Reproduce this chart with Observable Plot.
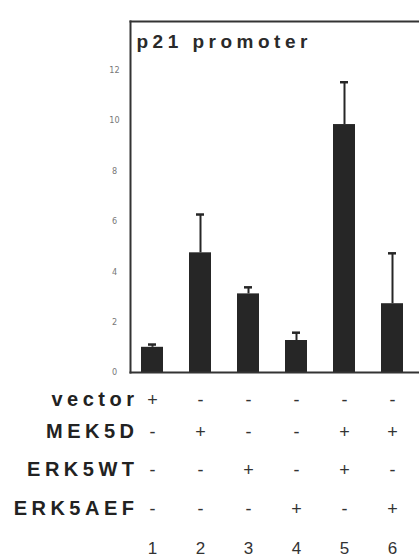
<!DOCTYPE html>
<html><head><meta charset="utf-8">
<script src="https://cdn.jsdelivr.net/npm/d3@7"></script>
<script src="https://cdn.jsdelivr.net/npm/@observablehq/plot@0.6"></script>
<style>
body{margin:0;background:#fff;overflow:hidden}
#chart svg{display:block}
</style>
</head><body><div id="chart"></div>
<script>
const title = "p21 promoter";
const lanes = ["1", "2", "3", "4", "5", "6"];
const values = [1.0, 4.75, 3.12, 1.27, 9.84, 2.73];
const errors = [0.11, 1.52, 0.26, 0.31, 1.68, 2.0];
const yTicks = [0, 2, 4, 6, 8, 10, 12];
const conditions = ["vector", "MEK5D", "ERK5WT", "ERK5AEF"];
const vectorSigns = ["+", "-", "-", "-", "-", "-"];
const mek5dSigns = ["-", "+", "-", "-", "+", "+"];
const erk5wtSigns = ["-", "-", "+", "-", "+", "-"];
const erk5aefSigns = ["-", "-", "-", "+", "-", "+"];
const signRows = [vectorSigns, mek5dSigns, erk5wtSigns, erk5aefSigns];

const bars = lanes.map((lane, i) => ({lane, value: values[i], top: values[i] + errors[i]}));

const W = 419, H = 556, ML = 130, MT = 21, MB = 184;
const axisBottom = H - MB;
const rowBaselines = [405, 437, 475, 514];
const numberBaseline = 553;
const ink = "#262626";
const sans = "'Liberation Sans', Arial, Helvetica, sans-serif";

const marks = [
  Plot.barY(bars, {x: "lane", y: "value", fill: ink}),
  Plot.ruleX(bars, {x: "lane", y1: "value", y2: "top", stroke: ink, strokeWidth: 2}),
  Plot.tickY(bars, {x: "lane", y: "top", stroke: ink, strokeWidth: 2.5, insetLeft: 7, insetRight: 7}),
  Plot.frame({anchor: "top", stroke: "#333", strokeWidth: 2}),
  Plot.frame({anchor: "left", stroke: "#333", strokeWidth: 2}),
  Plot.frame({anchor: "bottom", stroke: "#333", strokeWidth: 2}),
  Plot.axisY({ticks: yTicks, tickSize: 0, tickPadding: 16, textAnchor: "middle", fontSize: 9, fill: "#777", fontFamily: "'DejaVu Sans Condensed', 'Liberation Sans Narrow', sans-serif"}),
  Plot.text([title], {frameAnchor: "top-left", dx: 6, dy: 26, lineAnchor: "bottom", textAnchor: "start", fontSize: 19, fontWeight: "bold", fill: "#2a2a2a", fontFamily: sans}),
  ...conditions.map((c, r) => Plot.text([c], {frameAnchor: "bottom-left", dx: 8, dy: rowBaselines[r] - axisBottom, lineAnchor: "bottom", textAnchor: "end", fontSize: 20, fontWeight: "bold", fill: "#222", fontFamily: sans})),
  ...signRows.map((row, r) => Plot.text(lanes, {x: d => d, text: (d, i) => row[i], frameAnchor: "bottom", dy: rowBaselines[r] - axisBottom, lineAnchor: "bottom", fontSize: 18, fill: "#333", fontFamily: sans})),
  Plot.text(lanes, {x: d => d, text: d => d, frameAnchor: "bottom", dy: numberBaseline - axisBottom, lineAnchor: "bottom", fontSize: 17, fill: "#333", fontFamily: sans})
];

const chart = Plot.plot({
  width: W, height: H,
  marginLeft: ML, marginRight: 0, marginTop: MT, marginBottom: MB,
  style: {background: "#fff", fontFamily: sans, overflow: "visible"},
  x: {type: "band", domain: lanes, range: [127, 417], paddingInner: 0.55, paddingOuter: 0.275, axis: null},
  y: {domain: [0, 13.93], ticks: yTicks, axis: null},
  marks
});
const svg = d3.select(chart);
svg.selectAll("text").filter(function () { return this.textContent === title; }).style("letter-spacing", "4.5px");
svg.selectAll("text").filter(function () { return conditions.includes(this.textContent); }).style("letter-spacing", "4.5px");
document.getElementById("chart").append(chart);
</script>
</body></html>
